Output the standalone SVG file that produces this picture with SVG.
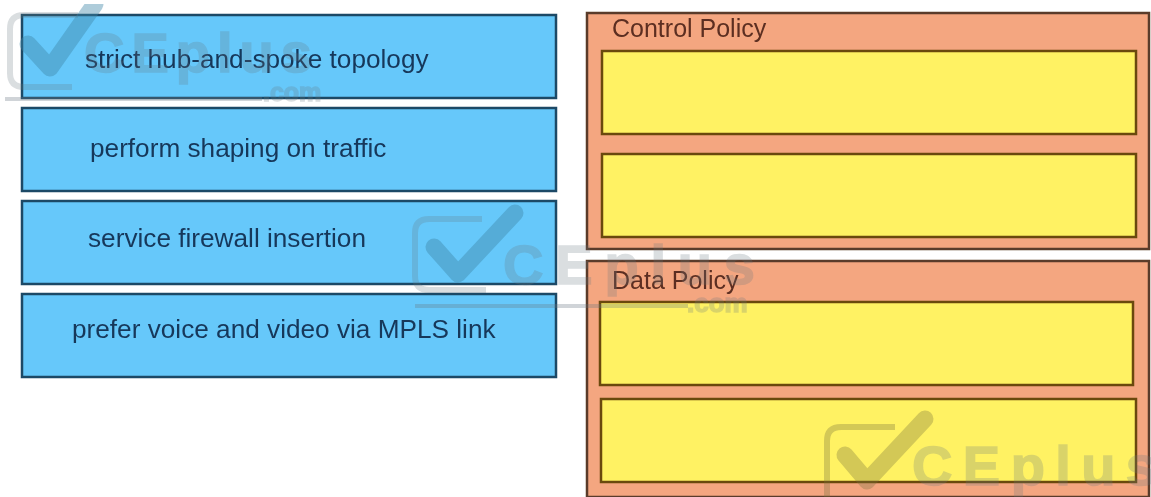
<svg xmlns="http://www.w3.org/2000/svg" width="1151" height="497" viewBox="0 0 1151 497">
<defs><filter id="soft" x="0" y="0" width="100%" height="100%"><feGaussianBlur stdDeviation="0.6"/></filter></defs>
<style>
.blue{fill:#66c8fa;stroke:#1f4a66;stroke-width:2.5}
.orange{fill:#f4a680;stroke:#5a3a2a;stroke-width:2.5}
.yellow{fill:#fff263;stroke:#6b4a10;stroke-width:2.5}
.t{font-family:"Liberation Sans",Arial,sans-serif;font-size:26.2px;fill:#17375a}
.h{font-family:"Liberation Sans",Arial,sans-serif;font-size:25px;fill:#5c2f20}
.wm{font-family:"Liberation Sans",Arial,sans-serif;font-weight:bold;fill:#66767f;stroke:#66767f;stroke-width:1.5;opacity:.24}
.wb{fill:none;stroke:#66767f;stroke-width:6;opacity:.24}
.wc{fill:none;stroke:#3f86a6;stroke-width:17;stroke-linecap:round;stroke-linejoin:round;opacity:.42}
.wl{stroke:#66767f;stroke-width:4;opacity:.3}
.olive{stroke:#77703a;opacity:.32}
</style>
<rect width="1151" height="497" fill="#fff"/>
<g filter="url(#soft)">
<g id="opt-1"><rect class="blue" x="22" y="15" width="534" height="83"/><text class="t" x="85" y="68">strict hub-and-spoke topology</text></g>
<g id="opt-2"><rect class="blue" x="22" y="108" width="534" height="83"/><text class="t" x="90" y="157">perform shaping on traffic</text></g>
<g id="opt-3"><rect class="blue" x="22" y="201" width="534" height="83"/><text class="t" x="88" y="247">service firewall insertion</text></g>
<g id="opt-4"><rect class="blue" x="22" y="294" width="534" height="83"/><text class="t" x="72" y="338">prefer voice and video via MPLS link</text></g>
<g id="control-policy"><rect class="orange" x="587" y="13" width="562" height="236"/><text class="h" x="612" y="37">Control Policy</text>
<rect class="yellow" x="602" y="51" width="534" height="83"/><rect class="yellow" x="602" y="154" width="534" height="83"/></g>
<g id="data-policy"><rect class="orange" x="587" y="261" width="562" height="236"/><text class="h" x="612" y="289">Data Policy</text>
<rect class="yellow" x="600" y="302" width="533" height="83"/><rect class="yellow" x="601" y="399" width="535" height="83"/></g>
<g id="connectors"/>
<g id="watermarks">
<path class="wb" d="M78 15H24Q10 15 10 29V73Q10 87 24 87H72"/>
<path class="wc" d="M28 44L50 68L95 4"/>
<text class="wm" x="84" y="72" font-size="56" textLength="228" lengthAdjust="spacing">CEplus</text>
<text class="wm" x="263" y="101" font-size="25">.com</text>
<line class="wl" x1="5" y1="99" x2="262" y2="99"/>
<path class="wb" d="M482 219H429Q415 219 415 233V276Q415 290 429 290H486"/>
<path class="wc" d="M434 247L458 274L515 213"/>
<text class="wm" x="503" y="284" font-size="56" textLength="252" lengthAdjust="spacing">CEplus</text>
<text class="wm" x="687" y="312" font-size="26">.com</text>
<line class="wl" x1="415" y1="306" x2="688" y2="306"/>
<path class="wb olive" d="M895 427H841Q827 427 827 441V497"/>
<path class="wc olive" d="M845 455L867 481L925 419"/>
<text class="wm" x="912" y="485" font-size="56" textLength="245" lengthAdjust="spacing">CEplus</text>
</g>
</g>
</svg>
